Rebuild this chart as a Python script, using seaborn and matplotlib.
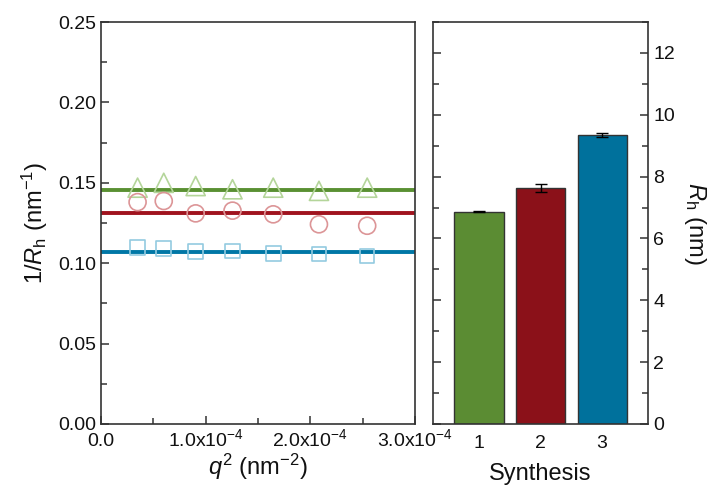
import numpy as np
import pandas as pd
import matplotlib
matplotlib.use('Agg')
import matplotlib.pyplot as plt
import seaborn as sns
from matplotlib.ticker import MultipleLocator, FuncFormatter

# q^2 values (nm^-2) shared by all three syntheses
q2 = [0.35e-4, 0.60e-4, 0.905e-4, 1.257e-4, 1.646e-4, 2.083e-4, 2.544e-4]
inv_rh_1 = [0.147, 0.150, 0.148, 0.146, 0.147, 0.145, 0.147]
inv_rh_2 = [0.138, 0.1387, 0.131, 0.1327, 0.1304, 0.1242, 0.1233]
inv_rh_3 = [0.1099, 0.1093, 0.1074, 0.1076, 0.1062, 0.1057, 0.1045]
fit_levels = [0.1455, 0.1314, 0.1072]

synthesis = ['1', '2', '3']
rh = [6.87, 7.63, 9.35]
rh_err = [0.02, 0.14, 0.06]

bar_colors = ['#5b8c33', '#8b1119', '#00719c']
line_colors = ['#5a9032', '#a0131e', '#0077a6']
marker_colors = ['#b4d59a', '#dc9597', '#93cbe0']
markers = ['^', 'o', 's']
marker_sizes = [190, 150, 110]

sns.set_style('ticks')
plt.rcParams['font.family'] = ['Liberation Sans', 'DejaVu Sans']
plt.rcParams['mathtext.fontset'] = 'custom'
plt.rcParams['mathtext.rm'] = 'Liberation Sans'
plt.rcParams['mathtext.it'] = 'Liberation Sans:italic'
plt.rcParams['text.color'] = '#111111'
plt.rcParams['xtick.labelcolor'] = '#111111'
plt.rcParams['ytick.labelcolor'] = '#111111'
plt.rcParams['axes.labelcolor'] = '#111111'

fig = plt.figure(figsize=(7.16, 4.9), dpi=100)
ax1 = fig.add_axes([0.141, 0.1347, 0.4385, 0.8203])
ax2 = fig.add_axes([0.6047, 0.1347, 0.3007, 0.8203])

for lvl, lc in zip(fit_levels, line_colors):
    ax1.axhline(lvl, color=lc, lw=2.8, zorder=2)

for vals, mk, mc, ms in zip([inv_rh_1, inv_rh_2, inv_rh_3], markers,
                            marker_colors, marker_sizes):
    sns.scatterplot(x=q2, y=vals, marker=mk, s=ms, facecolor='none',
                    edgecolor=mc, linewidth=1.2, ax=ax1, zorder=3)

ax1.set_xlim(0, 3e-4)
ax1.set_ylim(0, 0.25)
ax1.xaxis.set_major_locator(MultipleLocator(1e-4))
ax1.xaxis.set_minor_locator(MultipleLocator(0.5e-4))
ax1.yaxis.set_major_locator(MultipleLocator(0.05))
ax1.yaxis.set_minor_locator(MultipleLocator(0.025))


def sci_fmt(v, pos):
    if abs(v) < 1e-12:
        return '0.0'
    return r'%.1fx10$^{\mathrm{-4}}$' % (v / 1e-4)


ax1.xaxis.set_major_formatter(FuncFormatter(sci_fmt))
ax1.yaxis.set_major_formatter(FuncFormatter(lambda v, p: '%.2f' % v))
ax1.tick_params(which='both', direction='in', labelsize=14, width=1.1, color='#333333')
ax1.tick_params(which='major', length=6)
ax1.tick_params(which='minor', length=4)
ax1.tick_params(axis='x', pad=16)
for tick in ax1.xaxis.get_major_ticks():
    tick.label1.set_verticalalignment('baseline')
ax1.set_xlabel(r'$q^2$ (nm$^{-2}$)', fontsize=17, labelpad=1)
ax1.set_ylabel(r'1/$R_\mathrm{h}$ (nm$^{-1}$)', fontsize=17, labelpad=6)
for sp in ax1.spines.values():
    sp.set_linewidth(1.2)
    sp.set_color('#333333')

bars = pd.DataFrame({'synthesis': synthesis, 'rh': rh})
sns.barplot(data=bars, x='synthesis', y='rh', hue='synthesis', palette=bar_colors,
            saturation=1, width=0.8, edgecolor='#333333', linewidth=1.0, ax=ax2,
            legend=False)
ax2.errorbar(range(len(rh)), rh, yerr=rh_err, fmt='none', ecolor='black',
             elinewidth=1.0, capsize=4, capthick=1.0, zorder=5)
ax2.set_xlim(-0.75, 2.75)
ax2.set_ylim(0, 13)
ax2.yaxis.set_major_locator(MultipleLocator(2))
ax2.yaxis.set_minor_locator(MultipleLocator(1))
ax2.yaxis.tick_right()
ax2.yaxis.set_label_position('right')
ax2.tick_params(axis='y', which='both', direction='in', left=True, right=True,
                labelleft=False, labelright=True, labelsize=14, width=1.1, color='#333333')
ax2.tick_params(axis='y', which='major', length=6)
ax2.tick_params(axis='y', which='minor', length=4)
ax2.tick_params(axis='x', direction='in', length=6, width=1.1, labelsize=14,
                color='#333333', pad=8)
ax2.set_xlabel('Synthesis', fontsize=17, labelpad=8)
ax2.set_ylabel(r'$R_\mathrm{h}$ (nm)', fontsize=17, rotation=270, labelpad=24)
for sp in ax2.spines.values():
    sp.set_linewidth(1.2)
    sp.set_color('#333333')

fig.savefig('out.png', dpi=100)
